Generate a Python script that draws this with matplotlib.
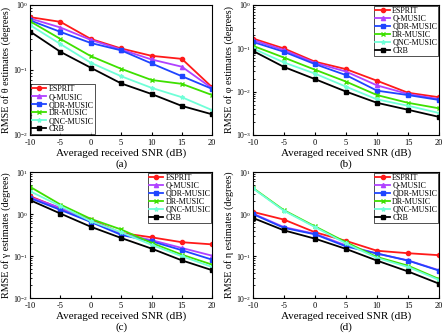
import matplotlib
matplotlib.use("Agg")
import matplotlib.pyplot as plt

plt.rcParams["font.family"] = ["Liberation Serif", "DejaVu Serif"]
plt.rcParams["mathtext.fontset"] = "stix"
plt.rcParams["axes.unicode_minus"] = False

snr = [-10, -5, 0, 5, 10, 15, 20]
methods = ["ESPRIT", "Q-MUSIC", "QDR-MUSIC", "DR-MUSIC", "QNC-MUSIC", "CRB"]

# (a) theta
theta_esprit = [0.65, 0.55, 0.30, 0.214, 0.165, 0.148, 0.054]
theta_q = [0.62, 0.45, 0.29, 0.206, 0.145, 0.112, 0.052]
theta_qdr = [0.58, 0.385, 0.26, 0.20, 0.126, 0.080, 0.051]
theta_dr = [0.56, 0.30, 0.163, 0.104, 0.070, 0.061, 0.041]
theta_qnc = [0.49, 0.25, 0.129, 0.080, 0.053, 0.038, 0.024]
theta_crb = [0.39, 0.19, 0.108, 0.062, 0.0426, 0.0279, 0.0207]

# (b) phi
phi_esprit = [0.168, 0.099, 0.049, 0.033, 0.0178, 0.0094, 0.0074]
phi_q = [0.155, 0.091, 0.046, 0.029, 0.0139, 0.0088, 0.0067]
phi_qdr = [0.14, 0.083, 0.043, 0.024, 0.0105, 0.0083, 0.0064]
phi_dr = [0.114, 0.061, 0.032, 0.017, 0.0083, 0.0055, 0.0041]
phi_qnc = [0.099, 0.047, 0.026, 0.013, 0.0066, 0.0047, 0.0032]
phi_crb = [0.087, 0.037, 0.0194, 0.010, 0.0055, 0.0038, 0.0026]

# (c) gamma
gamma_esprit = [2.67, 1.36, 0.74, 0.356, 0.28, 0.214, 0.19]
gamma_q = [2.53, 1.41, 0.67, 0.34, 0.24, 0.156, 0.102]
gamma_qdr = [2.4, 1.26, 0.65, 0.32, 0.225, 0.138, 0.082]
gamma_dr = [4.47, 1.69, 0.77, 0.43, 0.206, 0.108, 0.0625]
gamma_qnc = [3.5, 1.55, 0.68, 0.37, 0.185, 0.099, 0.055]
gamma_crb = [2.15, 1.03, 0.50, 0.27, 0.151, 0.079, 0.046]

# (d) eta
eta_esprit = [1.13, 0.74, 0.37, 0.23, 0.134, 0.117, 0.105]
eta_q = [1.03, 0.49, 0.34, 0.18, 0.115, 0.079, 0.046]
eta_qdr = [1.0, 0.47, 0.33, 0.17, 0.115, 0.078, 0.045]
eta_dr = [4.2, 1.24, 0.51, 0.214, 0.095, 0.059, 0.0284]
eta_qnc = [4.1, 1.2, 0.49, 0.20, 0.09, 0.055, 0.027]
eta_crb = [0.81, 0.41, 0.26, 0.148, 0.078, 0.043, 0.022]

colors = ["#ff1a1a", "#b041ff", "#1f45ff", "#3ee000", "#70ffd8", "#000000"]
markers = ["o", "^", "s", "x", "*", "s"]

panels = [
    dict(rect=[0.068, 0.595, 0.411, 0.39], data=[theta_esprit, theta_q, theta_qdr, theta_dr, theta_qnc, theta_crb],
         ylim=(1e-2, 1e0), ylabel="RMSE of θ estimates (degrees)", cap="(a)", loc="lower left", ylx=-0.105),
    dict(rect=[0.571, 0.595, 0.42, 0.39], data=[phi_esprit, phi_q, phi_qdr, phi_dr, phi_qnc, phi_crb],
         ylim=(1e-3, 1e0), ylabel="RMSE of φ estimates (degrees)", cap="(b)", loc="upper right", ylx=-0.1),
    dict(rect=[0.068, 0.105, 0.411, 0.378], data=[gamma_esprit, gamma_q, gamma_qdr, gamma_dr, gamma_qnc, gamma_crb],
         ylim=(1e-2, 1e1), ylabel="RMSE of γ estimates (degrees)", cap="(c)", loc="upper right", ylx=-0.105),
    dict(rect=[0.571, 0.105, 0.42, 0.378], data=[eta_esprit, eta_q, eta_qdr, eta_dr, eta_qnc, eta_crb],
         ylim=(1e-2, 1e1), ylabel="RMSE of η estimates (degrees)", cap="(d)", loc="upper right", ylx=-0.1),
]

fig = plt.figure(figsize=(4.43, 3.33), dpi=100)
for p in panels:
    ax = fig.add_axes(p["rect"])
    for name, vals, c, m in zip(methods, p["data"], colors, markers):
        ax.plot(snr, vals, color=c, marker=m, ms=3, lw=1.3, label=name)
    ax.set_yscale("log")
    ax.set_xlim(-10, 20)
    ax.set_ylim(*p["ylim"])
    ax.set_xticks(snr)
    ax.tick_params(direction="in", which="both", labelsize=6, pad=3, length=2.5)
    ax.tick_params(axis="y", labelsize=5.5, pad=1.5)
    ax.tick_params(which="minor", length=1.3)
    ax.set_xlabel("Averaged received SNR (dB)", fontsize=8, labelpad=1)
    ax.set_ylabel(p["ylabel"], fontsize=7.3)
    ax.yaxis.set_label_coords(p["ylx"], 0.5)
    ax.text(0.5, -0.19, p["cap"], transform=ax.transAxes, ha="center", va="top", fontsize=8)
    ax.legend(loc=p["loc"], fontsize=5.8, frameon=True, fancybox=False, edgecolor="black",
              borderpad=0.12, labelspacing=0.0, handlelength=1.8, handletextpad=0.3,
              borderaxespad=0.1).get_frame().set_linewidth(0.6)

fig.savefig("out.png", dpi=100)
